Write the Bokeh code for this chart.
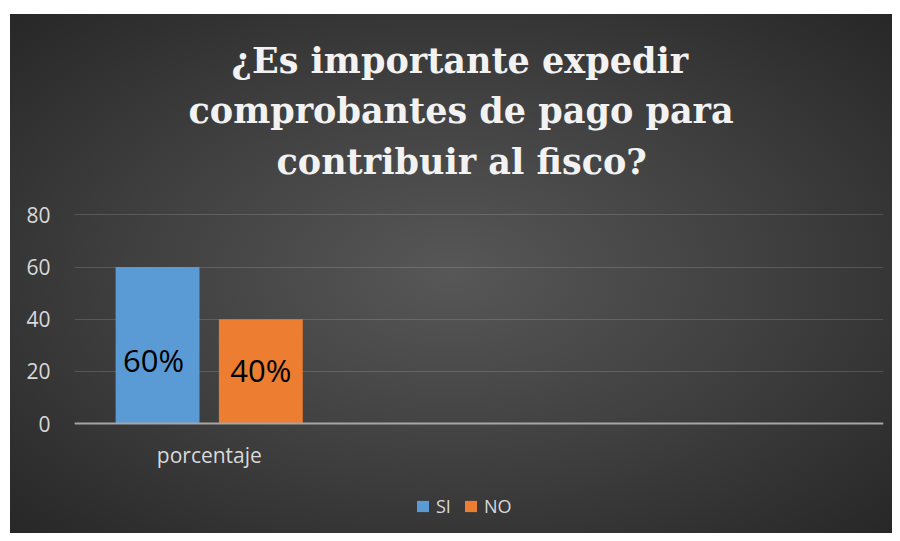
from bokeh.plotting import figure
from bokeh.models import (FactorRange, ColumnDataSource, Legend, LegendItem,
                          FixedTicker, InlineStyleSheet, Spacer, Title)
from bokeh.transform import dodge
from bokeh.layouts import row, column
from bokeh.core.properties import value
from bokeh.embed import file_html
from bokeh.resources import INLINE

# ---- data ----
categories = ["porcentaje", " ", "  "]
series = ["SI", "NO"]
si_values = [60]
no_values = [40]
si_labels = ["60%"]
no_labels = ["40%"]
y_ticks = [0, 20, 40, 60, 80]
title_lines = ["¿Es importante expedir", "comprobantes de pago para", "contribuir al fisco?"]

# ---- styles ----
SI_COLOR = "#5b9bd5"
NO_COLOR = "#ed7d31"
TXT = "#d9d9d9"
BAR_W = 0.311
OFF_SI, OFF_NO = -0.192, 0.191
Y_LOW, Y_HIGH = -40.1, 91.2   # room under zero (label + legend) and above 80 (gap to title)
TITLE_OFFSETS = [157, 114, 202]     # left offsets (px) of each title line
TITLE_STANDOFFS = [4.5, 7.5, 7.5]

src_si = ColumnDataSource(dict(x=categories[:1], top=si_values, label=si_labels,
                               ly=[v / 2 for v in si_values]))
src_no = ColumnDataSource(dict(x=categories[:1], top=no_values, label=no_labels,
                               ly=[v / 2 for v in no_values]))

bg_css = InlineStyleSheet(css=""":host { background: radial-gradient(ellipse farthest-corner at 50% 50%,
 #575757 0%, #404040 50%, #272727 100%); }""")

p = figure(x_range=FactorRange(factors=categories), y_range=(Y_LOW, Y_HIGH),
           width=882, height=519, output_backend="svg", toolbar_location=None,
           min_border_left=64, min_border_right=9, min_border_top=171, min_border_bottom=5,
           border_fill_color=None, background_fill_color=None, outline_line_color=None,
           stylesheets=[bg_css])

r_si = p.vbar(x=dodge("x", OFF_SI, range=p.x_range), top="top", width=BAR_W,
              source=src_si, fill_color=SI_COLOR, line_color=None)
r_no = p.vbar(x=dodge("x", OFF_NO, range=p.x_range), top="top", width=BAR_W,
              source=src_no, fill_color=NO_COLOR, line_color=None)

p.text(x=dodge("x", OFF_SI, range=p.x_range), y="ly", text="label", source=src_si,
       text_align="center", text_baseline="middle", text_color="black",
       text_font=value("Open Sans"), text_font_size="31px", x_offset=-4, y_offset=15)
p.text(x=dodge("x", OFF_NO, range=p.x_range), y="ly", text="label", source=src_no,
       text_align="center", text_baseline="middle", text_color="black",
       text_font=value("Open Sans"), text_font_size="31px", x_offset=0, y_offset=-1)

# title: one Title per line, added from the frame outward (last line first)
p.title.visible = False
for i in reversed(range(len(title_lines))):
    p.add_layout(Title(text=title_lines[i], align="left", text_font="DejaVu Serif",
                       text_font_style="bold", text_font_size="35px",
                       text_color="#f2f2f2", offset=TITLE_OFFSETS[i],
                       standoff=TITLE_STANDOFFS[i]), "above")

# axes
p.yaxis.ticker = FixedTicker(ticks=y_ticks)
p.yaxis.axis_line_color = None
p.yaxis.major_tick_line_color = None
p.yaxis.minor_tick_line_color = None
p.yaxis.major_label_text_color = TXT
p.yaxis.major_label_text_font = "Open Sans"
p.yaxis.major_label_text_font_size = "21px"
p.yaxis.major_label_standoff = 18

p.xaxis.fixed_location = 0
p.xaxis.axis_line_color = "#a6a6a6"
p.xaxis.axis_line_width = 2
p.xaxis.major_tick_line_color = None
p.xaxis.minor_tick_line_color = None
p.xaxis.major_label_text_color = TXT
p.xaxis.major_label_text_font = "Open Sans"
p.xaxis.major_label_text_font_size = "21px"
p.xaxis.major_label_standoff = 11

p.xgrid.grid_line_color = None
p.ygrid.ticker = FixedTicker(ticks=y_ticks)
p.ygrid.grid_line_color = "white"
p.ygrid.grid_line_alpha = 0.15

legend = Legend(items=[LegendItem(label=series[0], renderers=[r_si]),
                       LegendItem(label=series[1], renderers=[r_no])],
                orientation="horizontal", location=(341, 10),
                glyph_width=15, glyph_height=14, label_standoff=6, spacing=12,
                padding=0, margin=0, border_line_color=None, background_fill_alpha=0,
                label_text_color=TXT, label_text_font="Open Sans",
                label_text_font_size="18px", label_height=13, label_width=0)
p.add_layout(legend, "center")

layout = column(Spacer(height=14), row(Spacer(width=10), p))
open("out.html", "w").write(file_html(layout, INLINE))
